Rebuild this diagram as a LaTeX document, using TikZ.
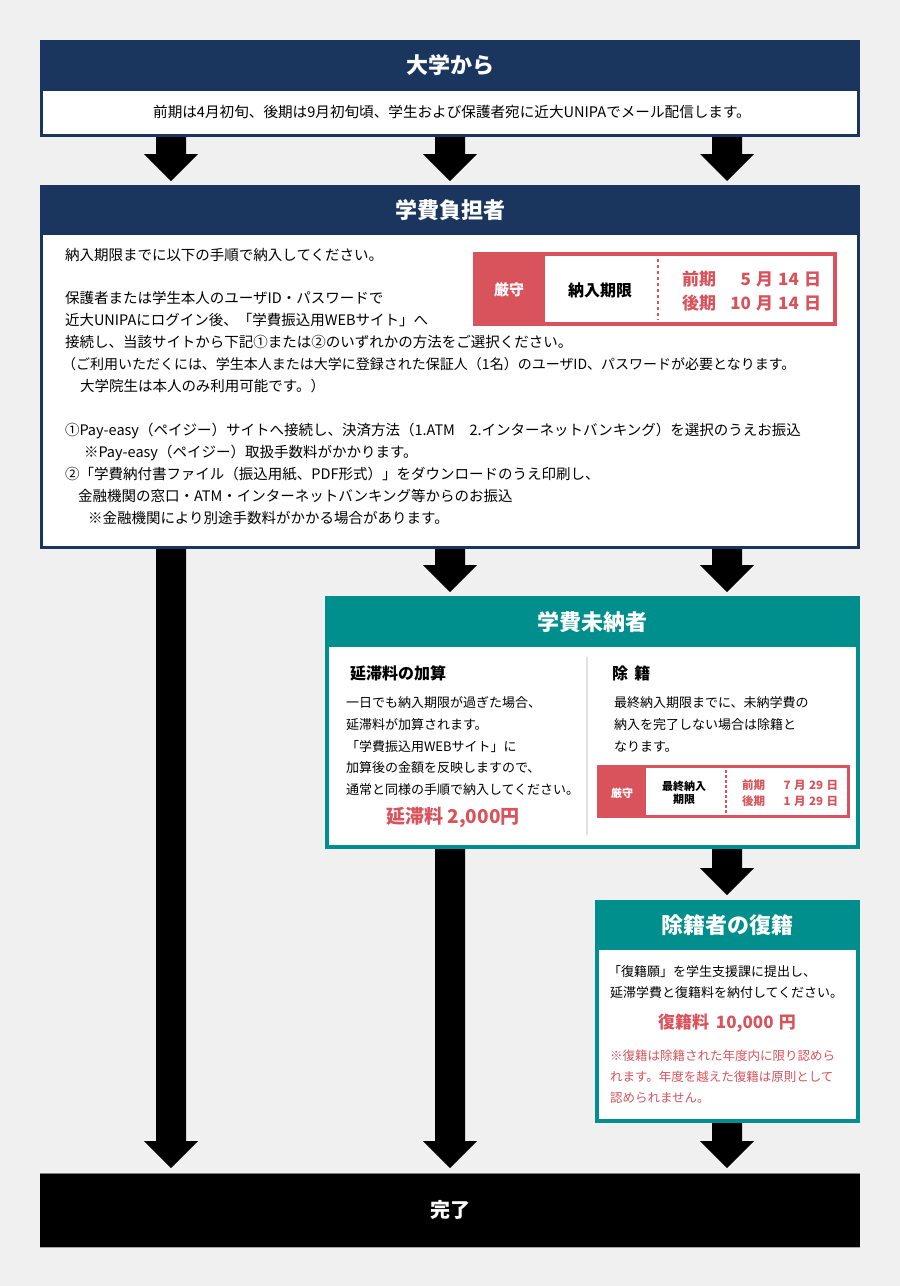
\documentclass[tikz,border=0pt]{standalone}
\usepackage{fontspec}
\setmainfont{Noto Sans CJK JP}
\usetikzlibrary{calc}
\definecolor{navy}{RGB}{27,54,94}
\definecolor{teal}{RGB}{0,143,141}
\definecolor{kred}{RGB}{216,83,92}
\definecolor{bgc}{RGB}{240,240,240}
\definecolor{divg}{RGB}{225,225,225}
\newcommand\fs[1]{\fontsize{#1}{#1}\selectfont}
\newcommand\gp{\hspace{0.3em}}
\newcommand\barrow[2]{\fill[black] let \p1=(#1), \p2=(#2) in
  (\x1-15pt,\y1) -- (\x1+15pt,\y1) -- (\x1+15pt,\y2+27pt) -- (\x1+27pt,\y2+27pt)
  -- (\x2,\y2) -- (\x1-27pt,\y2+27pt) -- (\x1-15pt,\y2+27pt) -- cycle;}
\begin{document}
\begin{tikzpicture}[x=1pt,y=-1pt,
  every node/.style={inner sep=0pt, outer sep=0pt},
  hd/.style={text=white, font=\fs{22}\bfseries},
  tx/.style={anchor=west, font=\fs{14.5}},
  sx/.style={anchor=west, font=\fs{13}},
  rx/.style={anchor=west, font=\fs{12.5}, text=kred},
  dashline/.style={kred, line width=1.5pt, dash pattern=on 3pt off 3pt}]
\fill[bgc] (0,0) rectangle (900,1286);
\useasboundingbox (0,0) rectangle (900,1286);

% ---- Box 1: 大学から
\fill[navy] (40,40) rectangle (860,137);
\fill[white] (43,91) rectangle (857,134);
\node[hd] (t1) at (450,65) {大学から};
\node[font=\fs{14.6}] (b1) at (452,112) {前期は4月初旬、後期は9月初旬頃、学生および保護者宛に近大UNIPAでメール配信します。};

% ---- Box 2: 学費負担者
\fill[navy] (40,185) rectangle (860,549);
\fill[white] (43,235) rectangle (857,546);
\node[hd] (t2) at (450,210) {学費負担者};
\node[tx] (l1) at (65,255) {納入期限までに以下の手順で納入してください。};
\node[tx] (l2) at (65,298) {保護者または学生本人のユーザID・パスワードで};
\node[tx] (l3) at (65,320) {近大UNIPAにログイン後、「学費振込用WEBサイト」へ};
\node[tx] (l4) at (65,342) {接続し、当該サイトから下記①または②のいずれかの方法をご選択ください。};
\node[tx, font=\fs{14}] (l5) at (62,364) {（ご利用いただくには、学生本人または大学に登録された保証人（1名）のユーザID、パスワードが必要となります。};
\node[tx] (l6) at (80,386) {大学院生は本人のみ利用可能です。）};
\node[tx] (l7) at (65,431) {①Pay-easy（ペイジー）サイトへ接続し、決済方法（1.ATM　2.インターネットバンキング）を選択のうえお振込};
\node[tx] (l8) at (84,453) {※Pay-easy（ペイジー）取扱手数料がかかります。};
\node[tx] (l9) at (65,474) {②「学費納付書ファイル（振込用紙、PDF形式）」をダウンロードのうえ印刷し、};
\node[tx] (l10) at (78,496) {金融機関の窓口・ATM・インターネットバンキング等からのお振込};
\node[tx] (l11) at (88,518) {※金融機関により別途手数料がかかる場合があります。};

% 厳守 box (large)
\fill[kred] (473,252) rectangle (837,326);
\fill[white] (545,256) rectangle (833,322);
\draw[dashline] (658,259) -- (658,320);
\node[text=white, font=\fs{15}\bfseries] (g1) at (509,290) {厳守};
\node[font=\fs{16}\bfseries] (g2) at (600,290) {納入期限};
\node[anchor=west, text=kred, font=\fs{17}\bfseries] (g3) at (682,279) {前期};
\node[anchor=east, text=kred, font=\fs{17}\bfseries] (g4) at (821,279) {5\gp 月\gp 14\gp 日};
\node[anchor=west, text=kred, font=\fs{17}\bfseries] (g5) at (682,303) {後期};
\node[anchor=east, text=kred, font=\fs{17}\bfseries] (g6) at (821,303) {10\gp 月\gp 14\gp 日};

% ---- Box 3: 学費未納者
\fill[teal] (325,596) rectangle (860,849);
\fill[white] (329,647) rectangle (856,845);
\node[hd] (t3) at (592,622) {学費未納者};
\draw[divg, line width=2pt] (587,657) -- (587,835);
\node[anchor=west, font=\fs{16}\bfseries] (h1) at (350,673) {延滞料の加算};
\node[sx] (m1) at (346,703) {一日でも納入期限が過ぎた場合、};
\node[sx] (m2) at (346,725) {延滞料が加算されます。};
\node[sx] (m3) at (346,747) {「学費振込用WEBサイト」に};
\node[sx] (m4) at (346,768) {加算後の金額を反映しますので、};
\node[sx] (m5) at (346,790) {通常と同様の手順で納入してください。};
\node[text=kred, font=\fs{19}\bfseries] (m6) at (453,818) {延滞料 2,000円};
\node[anchor=west, font=\fs{16}\bfseries] (h2) at (612,673) {除\hspace{0.4em}籍};
\node[sx] (n1) at (614,703) {最終納入期限までに、未納学費の};
\node[sx] (n2) at (614,725) {納入を完了しない場合は除籍と};
\node[sx] (n3) at (614,747) {なります。};

% 厳守 box (small)
\fill[kred] (597,765) rectangle (850,818);
\fill[white] (646,768) rectangle (847,815);
\draw[dashline, line width=1.2pt, dash pattern=on 2.5pt off 2.5pt] (726,770) -- (726,813);
\node[text=white, font=\fs{11}\bfseries] (s1) at (622,793) {厳守};
\node[font=\fs{11}\bfseries, align=center] (s2) at (684,793) {最終納入\\[2pt]期限};
\node[anchor=west, text=kred, font=\fs{11.5}\bfseries] (s3) at (742,785) {前期};
\node[anchor=east, text=kred, font=\fs{11.5}\bfseries] (s4) at (838,785) {7\gp 月\gp 29\gp 日};
\node[anchor=west, text=kred, font=\fs{11.5}\bfseries] (s5) at (742,801) {後期};
\node[anchor=east, text=kred, font=\fs{11.5}\bfseries] (s6) at (838,801) {1\gp 月\gp 29\gp 日};

% ---- Box 4: 除籍者の復籍
\fill[teal] (595,900) rectangle (860,1123);
\fill[white] (599,950) rectangle (856,1119);
\node[hd] (t4) at (727,925) {除籍者の復籍};
\node[sx] (p1) at (608,972) {「復籍願」を学生支援課に提出し、};
\node[sx] (p2) at (610,993) {延滞学費と復籍料を納付してください。};
\node[text=kred, font=\fs{17}\bfseries] (p3) at (727,1023) {復籍料\hspace{0.4em}10,000\hspace{0.3em}円};
\node[rx] (p4) at (610,1056) {※復籍は除籍された年度内に限り認めら};
\node[rx] (p5) at (610,1077) {れます。年度を越えた復籍は原則として};
\node[rx] (p6) at (610,1098) {認められません。};

% ---- Box 5: 完了
\fill[black] (40,1173) rectangle (860,1247);
\draw[gray, line width=1pt] (40,1173) -- (860,1173);
\draw[gray!70, line width=1pt] (40,1247) -- (860,1247);
\node[text=white, font=\fs{20}\bfseries] (t5) at (450,1210) {完了};

% ---- Arrows
\coordinate (a1s) at (171,137); \coordinate (a1e) at (171,181);
\coordinate (a2s) at (450,137); \coordinate (a2e) at (450,181);
\coordinate (a3s) at (727,137); \coordinate (a3e) at (727,181);
\coordinate (b1s) at (171,549); \coordinate (b1e) at (171,1168);
\coordinate (b2s) at (450,549); \coordinate (b2e) at (450,592);
\coordinate (b3s) at (727,549); \coordinate (b3e) at (727,592);
\coordinate (c2s) at (450,849); \coordinate (c2e) at (450,1168);
\coordinate (c3s) at (727,849); \coordinate (c3e) at (727,895);
\coordinate (d3s) at (727,1123); \coordinate (d3e) at (727,1168);
\barrow{a1s}{a1e}
\barrow{a2s}{a2e}
\barrow{a3s}{a3e}
\barrow{b1s}{b1e}
\barrow{b2s}{b2e}
\barrow{b3s}{b3e}
\barrow{c2s}{c2e}
\barrow{c3s}{c3e}
\barrow{d3s}{d3e}
\end{tikzpicture}
\end{document}
